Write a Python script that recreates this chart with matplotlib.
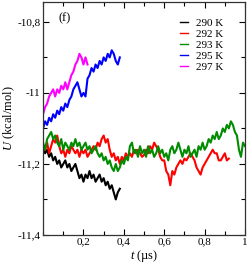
import matplotlib
matplotlib.use("Agg")
import matplotlib.pyplot as plt
from matplotlib.ticker import MultipleLocator, FixedLocator, FixedFormatter

plt.rcParams["font.family"] = ["Liberation Serif", "DejaVu Serif"]
plt.rcParams["mathtext.fontset"] = "custom"
plt.rcParams["mathtext.rm"] = "Liberation Serif"
plt.rcParams["mathtext.it"] = "Liberation Serif:italic"

step = 0.01

u_290 = [-11.15, -11.17, -11.16, -11.18, -11.17, -11.19, -11.18, -11.20, -11.19, -11.21,
         -11.20, -11.19, -11.21, -11.20, -11.22, -11.21, -11.20, -11.22, -11.24, -11.23,
         -11.25, -11.23, -11.24, -11.22, -11.24, -11.23, -11.25, -11.24, -11.23, -11.25,
         -11.24, -11.26, -11.25, -11.27, -11.26, -11.28, -11.30, -11.28, -11.27]

u_292 = [-11.15, -11.16, -11.14, -11.17, -11.15, -11.13, -11.14, -11.12, -11.15, -11.17,
         -11.16, -11.18, -11.16, -11.17, -11.15, -11.16, -11.17, -11.16, -11.18, -11.16,
         -11.17, -11.16, -11.18, -11.17, -11.16, -11.15, -11.16, -11.14, -11.15, -11.13,
         -11.12, -11.14, -11.13, -11.16, -11.18, -11.17, -11.19, -11.18, -11.20, -11.18,
         -11.19, -11.17, -11.18, -11.17, -11.18, -11.16, -11.17, -11.16, -11.17, -11.18,
         -11.175, -11.16, -11.17, -11.15, -11.16, -11.14, -11.15, -11.16, -11.18, -11.19,
         -11.19, -11.22, -11.23, -11.26, -11.22, -11.23, -11.21, -11.20, -11.19, -11.20,
         -11.185, -11.19, -11.18, -11.17, -11.18, -11.19, -11.21, -11.22, -11.23, -11.21,
         -11.20, -11.19, -11.18, -11.17, -11.16, -11.17, -11.17, -11.19, -11.19, -11.18,
         -11.17, -11.19, -11.185]

u_293 = [-11.14, -11.16, -11.13, -11.12, -11.11, -11.13, -11.12, -11.14, -11.15, -11.13,
         -11.16, -11.14, -11.15, -11.16, -11.14, -11.15, -11.13, -11.15, -11.14, -11.16,
         -11.15, -11.14, -11.16, -11.15, -11.17, -11.16, -11.15, -11.17, -11.18, -11.17,
         -11.19, -11.18, -11.20, -11.19, -11.21, -11.22, -11.20, -11.22, -11.21, -11.19,
         -11.20, -11.18, -11.19, -11.15, -11.14, -11.17, -11.16, -11.18, -11.15, -11.17,
         -11.16, -11.18, -11.15, -11.17, -11.16, -11.18, -11.17, -11.15, -11.17, -11.16,
         -11.18, -11.17, -11.19, -11.16, -11.15, -11.17, -11.16, -11.14, -11.16, -11.18,
         -11.16, -11.17, -11.15, -11.18, -11.17, -11.16, -11.18, -11.15, -11.16, -11.14,
         -11.16, -11.15, -11.13, -11.14, -11.12, -11.13, -11.11, -11.13, -11.12, -11.10,
         -11.11, -11.09, -11.10, -11.08, -11.09, -11.11, -11.12, -11.16, -11.18, -11.14,
         -11.15]

u_295 = [-11.10, -11.08, -11.09, -11.07, -11.08, -11.06, -11.07, -11.05, -11.06, -11.04,
         -11.05, -11.03, -11.04, -11.02, -11.01, -10.99, -10.98, -10.97, -10.99, -11.01,
         -11.00, -11.01, -10.96, -10.95, -10.93, -10.94, -10.92, -10.93, -10.91, -10.92,
         -10.90, -10.91, -10.89, -10.90, -10.88, -10.89, -10.91, -10.92, -10.90]

u_297 = [-11.06, -11.04, -11.03, -11.01, -11.00, -10.99, -11.01, -10.99, -11.00, -10.98,
         -10.99, -10.97, -10.99, -10.97, -10.95, -10.94, -10.92, -10.91, -10.89, -10.90,
         -10.92, -10.90, -10.92]

series = [
    ("290 K", u_290, "black"),
    ("292 K", u_292, "#ff0000"),
    ("293 K", u_293, "#008c00"),
    ("295 K", u_295, "#0000ff"),
    ("297 K", u_297, "#ff00ff"),
]

fig = plt.figure(figsize=(2.49, 2.67), dpi=100)
ax = fig.add_axes([0.173, 0.12, 0.811, 0.8725])

for label, u, color in series:
    t = [i * step for i in range(len(u))]
    ax.plot(t, u, color=color, linewidth=1.5, label=label)

ax.set_xlim(0, 1)
ax.set_ylim(-11.4, -10.744)

ax.xaxis.set_major_locator(FixedLocator([0.2, 0.4, 0.6, 0.8, 1.0]))
ax.xaxis.set_major_formatter(FixedFormatter(["0,2", "0,4", "0,6", "0,8", "1"]))
ax.xaxis.set_minor_locator(MultipleLocator(0.1))
ax.yaxis.set_major_locator(FixedLocator([-11.4, -11.2, -11.0, -10.8]))
ax.yaxis.set_major_formatter(FixedFormatter(["-11,4", "-11,2", "-11", "-10,8"]))
ax.yaxis.set_minor_locator(MultipleLocator(0.1))

ax.tick_params(which="both", direction="in", top=True, right=True,
               labelsize=8, pad=2)
ax.tick_params(which="major", length=4, width=0.8)
ax.tick_params(which="minor", length=3, width=0.8)
for s in ax.spines.values():
    s.set_linewidth(0.9)
    s.set_color("#333333")

ax.set_xlabel(r"$\it{t}$ (µs)", fontsize=9, labelpad=1)
ax.set_ylabel(r"$\it{U}$ (kcal/mol)", fontsize=9, labelpad=0)

ax.text(0.075, 0.93, "(f)", transform=ax.transAxes, fontsize=9,
        va="center", ha="left")

leg = ax.legend(loc="upper right", bbox_to_anchor=(0.895, 0.93), frameon=False,
                fontsize=8, handlelength=0.7, handletextpad=0.8, labelspacing=0.1,
                borderpad=0, borderaxespad=0)
for line in leg.get_lines():
    line.set_linewidth(1.0)

fig.savefig("out.png", dpi=100)
